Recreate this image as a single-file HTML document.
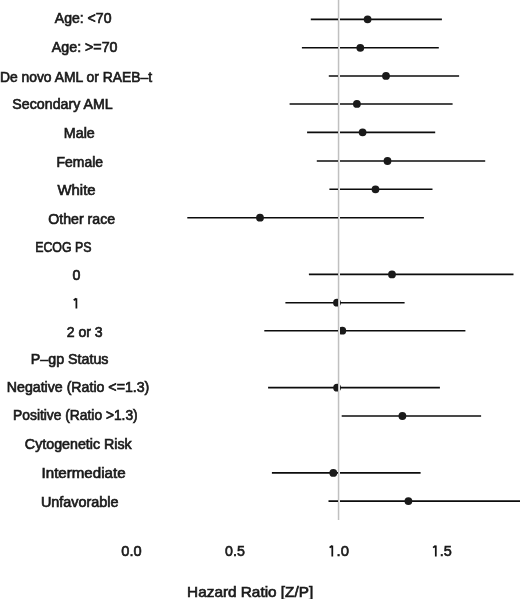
<!DOCTYPE html>
<html><head><meta charset="utf-8"><style>
html,body{margin:0;padding:0;background:#fff;}
body{width:520px;height:599px;overflow:hidden;}
svg{display:block;will-change:transform;}
text{font-family:"Liberation Sans",sans-serif;font-size:14px;fill:#1a1a1a;stroke:#1a1a1a;stroke-width:0.65px;}
</style></head><body>
<svg width="520" height="599" viewBox="0 0 520 599">
<text x="54.82" y="22.90" textLength="56.64" lengthAdjust="spacingAndGlyphs">Age: &lt;70</text>
<text x="51.84" y="51.60" textLength="65.69" lengthAdjust="spacingAndGlyphs">Age: &gt;=70</text>
<text x="-0.12" y="81.50" textLength="152.17" lengthAdjust="spacingAndGlyphs">De novo AML or RAEB–t</text>
<text x="12.39" y="108.80" textLength="100.31" lengthAdjust="spacingAndGlyphs">Secondary AML</text>
<text x="63.84" y="138.00" textLength="30.95" lengthAdjust="spacingAndGlyphs">Male</text>
<text x="56.60" y="166.70" textLength="46.36" lengthAdjust="spacingAndGlyphs">Female</text>
<text x="57.54" y="194.70" textLength="38.03" lengthAdjust="spacingAndGlyphs">White</text>
<text x="48.29" y="223.50" textLength="66.79" lengthAdjust="spacingAndGlyphs">Other race</text>
<text x="35.17" y="252.10" textLength="56.43" lengthAdjust="spacingAndGlyphs">ECOG PS</text>
<text x="72.46" y="280.30" textLength="7.91" lengthAdjust="spacingAndGlyphs">0</text>
<path d="M76.4 308.4 V298.3 M76.2 298.5 L73.7 300.3" stroke="#141414" stroke-width="1.75" fill="none" stroke-linejoin="round"/>
<text x="66.68" y="336.50" textLength="35.95" lengthAdjust="spacingAndGlyphs">2 or 3</text>
<text x="30.89" y="363.90" textLength="77.59" lengthAdjust="spacingAndGlyphs">P–gp Status</text>
<text x="6.79" y="392.10" textLength="142.55" lengthAdjust="spacingAndGlyphs">Negative (Ratio &lt;=1.3)</text>
<text x="13.12" y="420.20" textLength="124.61" lengthAdjust="spacingAndGlyphs">Positive (Ratio &gt;1.3)</text>
<text x="24.88" y="448.70" textLength="106.86" lengthAdjust="spacingAndGlyphs">Cytogenetic Risk</text>
<text x="41.54" y="478.40" textLength="84.01" lengthAdjust="spacingAndGlyphs">Intermediate</text>
<text x="40.92" y="506.80" textLength="77.64" lengthAdjust="spacingAndGlyphs">Unfavorable</text>
<text x="121.35" y="556.30" style="font-size:15px" textLength="20.33" lengthAdjust="spacingAndGlyphs">0.0</text>
<text x="225.05" y="556.30" style="font-size:15px" textLength="19.76" lengthAdjust="spacingAndGlyphs">0.5</text>
<text x="336.50" y="556.30" style="font-size:15px" textLength="12.39" lengthAdjust="spacingAndGlyphs">.0</text>
<text x="439.81" y="556.30" style="font-size:15px" textLength="12.04" lengthAdjust="spacingAndGlyphs">.5</text>
<text x="187.14" y="596.50" style="font-size:14.5px" textLength="126.06" lengthAdjust="spacingAndGlyphs">Hazard Ratio [Z/P]</text>
<path d="M332.3 556.6 V545.5 M332.1 545.7 L329.6 547.6 M435.8 556.6 V545.5 M435.6 545.7 L433.1 547.6" stroke="#141414" stroke-width="1.75" fill="none" stroke-linejoin="round"/>
<rect x="337" y="0" width="1" height="520" fill="#f2f2f2"/>
<line x1="310.8" y1="19.37" x2="441.9" y2="19.37" stroke="#0c0c0c" stroke-width="1.6"/>
<circle cx="367.6" cy="19.37" r="3.9" fill="#1a1a1a"/>
<line x1="301.9" y1="47.80" x2="438.8" y2="47.80" stroke="#0c0c0c" stroke-width="1.6"/>
<circle cx="360.3" cy="47.80" r="3.9" fill="#1a1a1a"/>
<line x1="328.8" y1="75.95" x2="459.1" y2="75.95" stroke="#0c0c0c" stroke-width="1.6"/>
<circle cx="386.0" cy="75.95" r="3.9" fill="#1a1a1a"/>
<line x1="289.6" y1="103.95" x2="452.6" y2="103.95" stroke="#0c0c0c" stroke-width="1.6"/>
<circle cx="356.9" cy="103.95" r="3.9" fill="#1a1a1a"/>
<line x1="307.1" y1="132.37" x2="435.2" y2="132.37" stroke="#0c0c0c" stroke-width="1.6"/>
<circle cx="362.6" cy="132.37" r="3.9" fill="#1a1a1a"/>
<line x1="316.8" y1="161.00" x2="485.2" y2="161.00" stroke="#0c0c0c" stroke-width="1.6"/>
<circle cx="387.5" cy="161.00" r="3.9" fill="#1a1a1a"/>
<line x1="329.4" y1="189.30" x2="432.5" y2="189.30" stroke="#0c0c0c" stroke-width="1.6"/>
<circle cx="375.5" cy="189.30" r="3.9" fill="#1a1a1a"/>
<line x1="187.3" y1="217.70" x2="423.9" y2="217.70" stroke="#0c0c0c" stroke-width="1.6"/>
<circle cx="260.0" cy="217.70" r="3.9" fill="#1a1a1a"/>
<line x1="308.9" y1="274.40" x2="513.5" y2="274.40" stroke="#0c0c0c" stroke-width="1.6"/>
<circle cx="392.0" cy="274.40" r="3.9" fill="#1a1a1a"/>
<line x1="285.4" y1="302.70" x2="404.6" y2="302.70" stroke="#0c0c0c" stroke-width="1.6"/>
<circle cx="337.0" cy="302.70" r="3.9" fill="#1a1a1a"/>
<line x1="264.3" y1="330.70" x2="465.4" y2="330.70" stroke="#0c0c0c" stroke-width="1.6"/>
<circle cx="342.3" cy="330.70" r="3.9" fill="#1a1a1a"/>
<line x1="268.1" y1="387.67" x2="439.9" y2="387.67" stroke="#0c0c0c" stroke-width="1.6"/>
<circle cx="337.1" cy="387.67" r="3.9" fill="#1a1a1a"/>
<line x1="341.7" y1="416.00" x2="481.1" y2="416.00" stroke="#0c0c0c" stroke-width="1.6"/>
<circle cx="402.4" cy="416.00" r="3.9" fill="#1a1a1a"/>
<line x1="271.9" y1="472.90" x2="420.6" y2="472.90" stroke="#0c0c0c" stroke-width="1.6"/>
<circle cx="333.3" cy="472.90" r="3.9" fill="#1a1a1a"/>
<line x1="328.5" y1="501.10" x2="525.0" y2="501.10" stroke="#0c0c0c" stroke-width="1.6"/>
<circle cx="408.4" cy="501.10" r="3.9" fill="#1a1a1a"/>
<rect x="338" y="0" width="1" height="520" fill="#c0c0c0"/>
<rect x="339" y="0" width="1" height="520" fill="#ececec"/>
</svg>
</body></html>
